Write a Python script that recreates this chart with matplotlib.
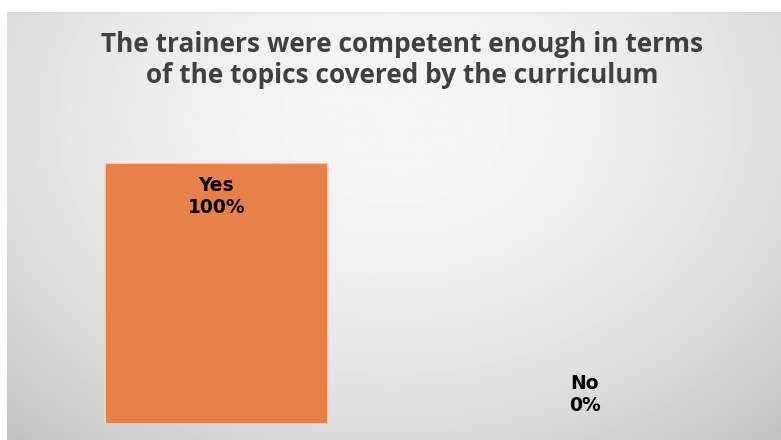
import numpy as np
import matplotlib
matplotlib.use("Agg")
import matplotlib.pyplot as plt

categories = ["Yes", "No"]
values = [100, 0]
title = "The trainers were competent enough in terms\nof the topics covered by the curriculum"

W, H, DPI = 781, 440, 100
fig = plt.figure(figsize=(W / DPI, H / DPI), dpi=DPI)
fig.patch.set_facecolor("white")

# radial grey background panel
bg = fig.add_axes([7 / W, 0, 1 - 7 / W, (H - 12) / H])
bg.set_axis_off()
ny, nx = 300, 600
yy, xx = np.mgrid[0:ny, 0:nx]
cx, cy = nx * 0.5, ny * 0.25
r = np.sqrt(((xx - cx) / (nx * 0.55)) ** 2 + ((yy - cy) / (ny * 0.75)) ** 2)
grey = 0.965 - 0.112 * r ** 2.0
grey = np.clip(grey, 0.74, 1)
grey[0:2, :] -= 0.03
bg.imshow(grey, cmap="gray", vmin=0, vmax=1, aspect="auto",
          extent=[0, 1, 0, 1], origin="upper", interpolation="bilinear")
bg.set_xlim(0, 1)
bg.set_ylim(0, 1)

ax = fig.add_axes([32 / W, 16 / H, 737 / W, 261 / H])
ax.patch.set_alpha(0)
x = np.arange(len(categories))
bars = ax.bar(x, values, width=0.605, color="#E8804A", edgecolor="#F6D9BE", linewidth=1.2)
for b, v in zip(bars, values):
    if v == 0:
        b.set_linewidth(0)
ax.set_xlim(-0.5, 1.5)
ax.set_ylim(0, 100)
ax.set_axis_off()

for xi, cat, v in zip(x, categories, values):
    ypos = v - 13.0 if v > 50 else v + 11.3
    ax.text(xi, ypos, f"{cat}\n{v}%", ha="center", va="center",
            fontsize=13.5, fontweight="bold", color="black",
            family="DejaVu Sans", linespacing=1.2)

fig.text(402 / W, 1 - 60 / H, title, ha="center", va="center", fontsize=18.9,
         fontweight="bold", color="#404040", family="Open Sans", linespacing=1.2)

fig.savefig("out.png", dpi=DPI)
